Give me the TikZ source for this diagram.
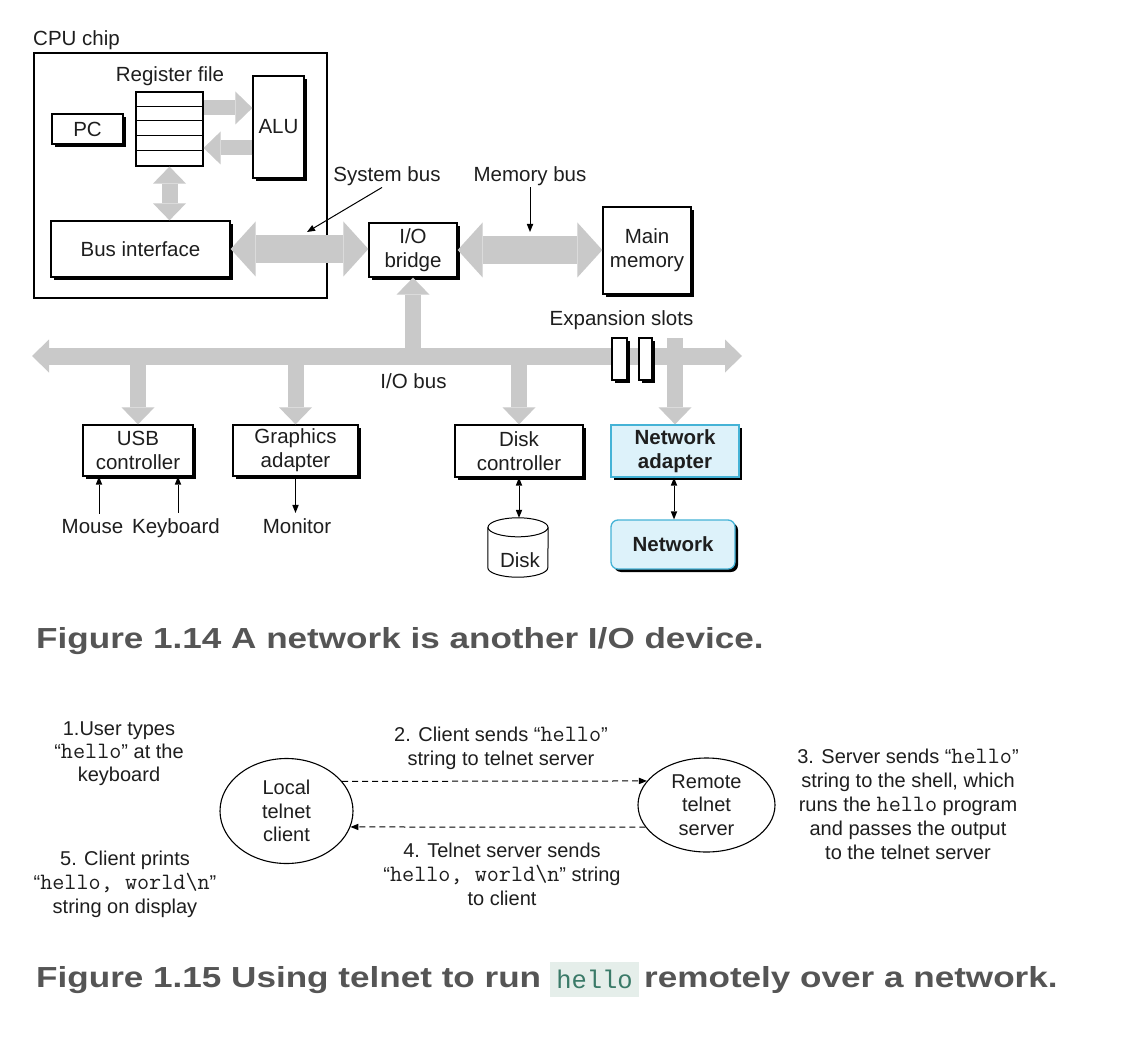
\documentclass[tikz,border=0pt]{standalone}
\usepackage{fontspec}
\usepackage{graphicx}
\setmainfont{Liberation Sans}
\newfontfamily\capmono{Liberation Mono}
\usetikzlibrary{arrows.meta,shadows,shapes.geometric,calc}
\definecolor{txt}{HTML}{1E1E1E}
\definecolor{busgray}{HTML}{C9C9C9}
\definecolor{capgray}{HTML}{555555}
\definecolor{netfill}{HTML}{DDF2FA}
\definecolor{netdraw}{HTML}{45B3D6}
\definecolor{codebg}{HTML}{E5EEEA}
\definecolor{codefg}{HTML}{3A7A68}
\newcommand{\code}[1]{{\fontsize{23.5}{24}\selectfont\ttfamily #1}}
\tikzset{
  bigtip/.tip={Triangle[length=25pt,width=55pt,line width=0pt]},
  midtip/.tip={Triangle[length=17pt,width=33pt,line width=0pt]},
  smalltip/.tip={Triangle[length=8pt,width=6.5pt,line width=0pt]},
}
\begin{document}
\begin{tikzpicture}[x=1pt,y=-1pt,
  lab/.style={font=\fontsize{20.5}{24}\selectfont, text=txt, inner sep=0pt, align=center},
  lab2/.style={font=\fontsize{20}{24}\selectfont, text=txt, inner sep=0pt, align=center},
  box/.style={lab, draw=black, fill=white, line width=1.3pt,
    drop shadow={shadow xshift=3pt, shadow yshift=-3pt, fill=black, opacity=1}},
  netbox/.style={box, draw=netdraw, fill=netfill, font=\fontsize{20.5}{24}\selectfont\bfseries},
  sysbus/.style={draw=busgray, line width=28pt, arrows={bigtip-bigtip}},
  iobus/.style={draw=busgray, line width=17pt, arrows={midtip-midtip}},
  branch/.style={draw=busgray, line width=16pt, arrows={-midtip}},
  branch2/.style={draw=busgray, line width=16pt, arrows={midtip-midtip}},
  ptr/.style={draw=black, line width=1pt, arrows={-smalltip}},
  ptr2/.style={draw=black, line width=1pt, arrows={smalltip-smalltip}},
  msg/.style={draw=black, line width=1pt, dash pattern=on 6pt off 4pt, arrows={-smalltip}},
  oval/.style={lab2, font=\fontsize{20}{23.5}\selectfont, ellipse, draw=black, line width=1.1pt, inner sep=-2pt},
  capfont/.style={anchor=base west, inner sep=0pt, text=capgray, font=\fontsize{29}{30}\selectfont\bfseries},
]
\useasboundingbox (0,0) rectangle (1126,1040);
\fill[white] (0,0) rectangle (1126,1040);

% ---------- Figure 1.14 ----------
\node[lab, anchor=base west] (cpulbl) at (33,46) {CPU chip};
\node[draw=black, line width=2pt, minimum width=293pt, minimum height=245pt, inner sep=0pt] (cpu) at (180.5,175.5) {};
\node[lab, anchor=base] (reglbl) at (170,82) {Register file};
\node[draw=black, fill=white, line width=1.2pt, minimum width=67pt, minimum height=74pt, inner sep=0pt] (reg) at (169.5,129) {};
\foreach \k in {1,...,4}
  \draw[line width=1pt] ($(reg.north west)+(0,14.8*\k)$) -- ($(reg.north east)+(0,14.8*\k)$);
\node[box, minimum width=71pt, minimum height=30pt] (pc) at (87.5,129) {PC};
\node[box, minimum width=51pt, minimum height=102pt] (alu) at (278.5,127) {ALU};
\node[box, minimum width=179pt, minimum height=56pt] (busif) at (140.5,249) {Bus interface};
\node[box, minimum width=88pt, minimum height=54pt] (bridge) at (413,250) {I/O\\bridge};
\node[box, minimum width=88pt, minimum height=87pt] (mem) at (647,250.5) {Main\\memory};

\node[lab, anchor=base] (sysbuslbl) at (387,182) {System bus};
\node[lab, anchor=base] (membuslbl) at (530,182) {Memory bus};
\node[lab, anchor=base] (explbl) at (621.5,325) {Expansion slots};
\node[lab, anchor=base] (iobuslbl) at (413.5,388) {I/O bus};

\node[box, minimum width=110pt, minimum height=51pt] (usb) at (138,450.5) {USB\\controller};
\node[box, minimum width=125pt, minimum height=51pt] (gfx) at (295.5,450.5) {Graphics\\adapter};
\node[box, minimum width=128pt, minimum height=52pt] (dctrl) at (519,451) {Disk\\controller};
\node[netbox, minimum width=128pt, minimum height=52pt] (nadapt) at (675,451) {Network\\adapter};
\node[netbox, rounded corners=7pt, minimum width=124pt, minimum height=49pt] (net) at (673,544.5) {Network};

\node[lab, anchor=base] (mouse) at (92.5,533) {Mouse};
\node[lab, anchor=base] (kbd) at (176,533) {Keyboard};
\node[lab, anchor=base] (mon) at (297,533) {Monitor};

% disk cylinder
\node[minimum width=60pt, minimum height=59pt, inner sep=0pt] (disk) at (518,547.5) {};
\draw[line width=1pt, fill=white] ($(disk.north west)+(0,9.5)$) -- ($(disk.south west)+(0,-9.5)$)
  arc[start angle=180, end angle=360, x radius=30pt, y radius=9.5pt] -- ($(disk.north east)+(0,9.5)$);
\draw[line width=1pt, fill=white] ($(disk.north)+(0,9.5)$) ellipse[x radius=30pt, y radius=9.5pt];
\node[lab, anchor=base] (disklbl) at (520,567) {Disk};

% fat arrows inside the CPU
\draw[draw=busgray, line width=15pt, arrows={-midtip}] ([yshift=21pt]reg.east) -- ([yshift=19pt]alu.west);
\draw[draw=busgray, line width=15pt, arrows={-midtip}] ([yshift=-21pt]alu.west) -- ([yshift=-19pt]reg.east);
\draw[branch2] (reg.south) -- (reg.south |- busif.north);

% system and memory bus
\draw[sysbus] (busif.east) -- (busif.east -| bridge.west);
\draw[sysbus] (bridge.east) -- (bridge.east -| mem.west);

% I/O bus
\coordinate (busL) at (32,356);
\coordinate (busR) at (742,356);
\coordinate (slottop) at (0,338);
\draw[iobus] (busL) -- (busR);
\draw[branch] (bridge.south |- busL) -- (bridge.south);
\draw[branch] (usb.north |- busL) -- (usb.north);
\draw[branch] (gfx.north |- busL) -- (gfx.north);
\draw[branch] (dctrl.north |- busL) -- (dctrl.north);
\draw[branch] (nadapt.north |- slottop) -- (nadapt.north);

% expansion slots
\node[box, minimum width=15pt, minimum height=42pt, line width=1.2pt] (slot1) at (619.5,359) {};
\node[box, minimum width=13pt, minimum height=42pt, line width=1.2pt] (slot2) at (645.5,359) {};

% thin pointers
\coordinate (sysptr) at (307,232);
\coordinate (memptr) at (530,232);
\draw[ptr] ([xshift=-5pt,yshift=-1pt]sysbuslbl.south) -- (sysptr);
\draw[ptr] ([yshift=-1pt]membuslbl.south) -- (memptr);
\coordinate (mx) at (99,0);
\coordinate (kx) at (178,0);
\coordinate (gx) at (295.5,0);
\draw[ptr] ([yshift=5pt]mouse.north -| mx) -- (usb.south -| mx);
\draw[ptr] ([yshift=5pt]kbd.north -| kx) -- (usb.south -| kx);
\draw[ptr] (gfx.south) -- ([yshift=5pt]mon.north -| gx);
\draw[ptr2] (dctrl.south) -- (dctrl.south |- disk.north);
\draw[ptr2] ([xshift=-1pt]nadapt.south) -- ([xshift=-1pt]nadapt.south |- net.north);

% caption 1
\node[capfont] (cap1) at (36,648)
  {\scalebox{1.21}[1]{Figure 1.14 A network is another I/O device.}};

% ---------- Figure 1.15 ----------
\node[oval, minimum width=133pt, minimum height=105pt] (local) at (286.5,811) {Local\\telnet\\client};
\node[oval, minimum width=137pt, minimum height=94pt] (remote) at (706.5,805) {Remote\\telnet\\server};
\draw[msg] (local.28) -- (remote.158);
\draw[msg] (remote.200) -- (local.346);

\node[lab2, font=\fontsize{20}{23}\selectfont] (m1) at (119,754) {1.User types\\“\code{hello}” at the\\keyboard};
\node[lab2] (m2) at (501,748) {2. Client sends “\code{hello}”\\string to telnet server};
\node[lab2] (m3) at (908,804) {3. Server sends “\code{hello}”\\string to the shell, which\\runs the \code{hello} program\\and passes the output\\to the telnet server};
\node[lab2] (m4) at (502,874) {4. Telnet server sends\\“\code{hello, world\textbackslash n}” string\\to client};
\node[lab2] (m5) at (125,884) {5. Client prints\\“\code{hello, world\textbackslash n}”\\string on display};

% caption 2
\node[capfont] (cap2a) at (36,987)
  {\scalebox{1.21}[1]{Figure 1.15 Using telnet to run}};
\node[fill=codebg, text=codefg, font=\fontsize{25.5}{26}\selectfont\capmono, inner sep=0pt, minimum width=89pt, minimum height=35pt] (cap2code) at (594.5,979.5) {hello};
\node[capfont] (cap2b) at (644,987)
  {\scalebox{1.21}[1]{remotely over a network.}};
\end{tikzpicture}
\end{document}
